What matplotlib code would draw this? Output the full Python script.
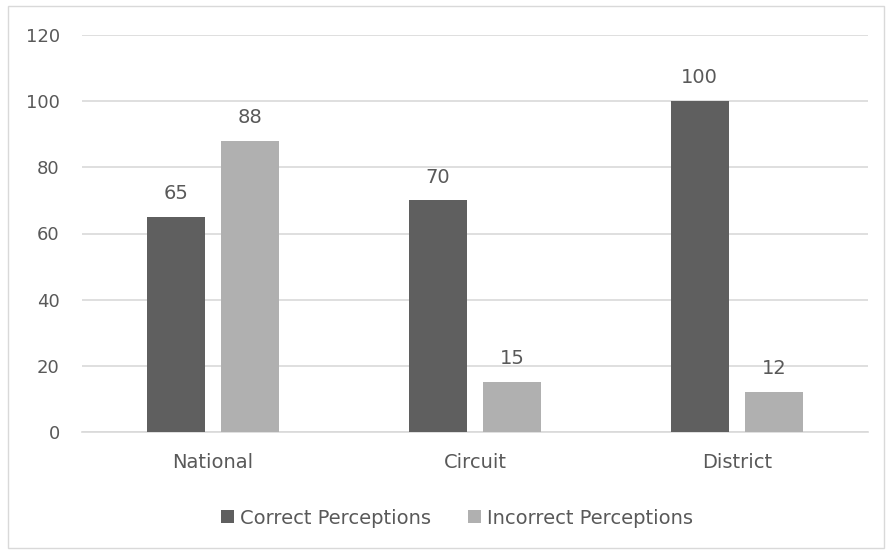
import matplotlib
matplotlib.use("Agg")
import matplotlib.pyplot as plt
import numpy as np
from matplotlib.patches import Rectangle

categories = ["National", "Circuit", "District"]
correct = [65, 70, 100]
incorrect = [88, 15, 12]
series_names = ["Correct Perceptions", "Incorrect Perceptions"]
yticks = [0, 20, 40, 60, 80, 100, 120]

plt.rcParams['font.family'] = ['DejaVu Sans']
text_color = "#595959"
dark = "#5f5f5f"
light = "#b0b0b0"

fig = plt.figure(figsize=(8.91, 5.54), dpi=100)
fig.patches.append(Rectangle((8/891, 6/554), (884-8)/891, (548-6)/554,
                             transform=fig.transFigure, fill=False,
                             edgecolor="#d9d9d9", linewidth=1.0))
ax = fig.add_axes([82/891, (554-432)/554, (868-82)/891, (432-35)/554])

x = np.arange(len(categories))
w = 0.222
off = 0.142
b1 = ax.bar(x - off, correct, w, color=dark, label=series_names[0], zorder=3)
b2 = ax.bar(x + off, incorrect, w, color=light, label=series_names[1], zorder=3)

for bars, vals in ((b1, correct), (b2, incorrect)):
    for rect, v in zip(bars, vals):
        ax.annotate(str(v), (rect.get_x() + rect.get_width()/2, v),
                    xytext=(0, 10), textcoords="offset points",
                    ha="center", va="bottom", fontsize=14, color=text_color)

ax.set_xlim(-0.5, 2.5)
ax.set_ylim(0, 120)
ax.set_yticks(yticks)
ax.set_xticks(x)
ax.set_xticklabels(categories)
ax.yaxis.grid(True, color="#d9d9d9", linewidth=1.2, zorder=0)
ax.set_axisbelow(True)
for s in ["top", "right", "left"]:
    ax.spines[s].set_visible(False)
ax.spines["bottom"].set_color("#d9d9d9")
ax.spines["bottom"].set_linewidth(1.2)
ax.tick_params(axis="both", length=0, labelcolor=text_color)
ax.tick_params(axis="y", pad=16, labelsize=13)
ax.tick_params(axis="x", pad=15, labelsize=14)

leg = fig.legend(handles=[b1, b2], labels=series_names, loc="center",
                 bbox_to_anchor=(457/891, (554-518)/554), ncol=2, frameon=False,
                 fontsize=14, handlelength=0.68, handleheight=0.68,
                 handletextpad=0.3, columnspacing=1.9)
for t in leg.get_texts():
    t.set_color(text_color)

fig.savefig("out.png", dpi=100)
